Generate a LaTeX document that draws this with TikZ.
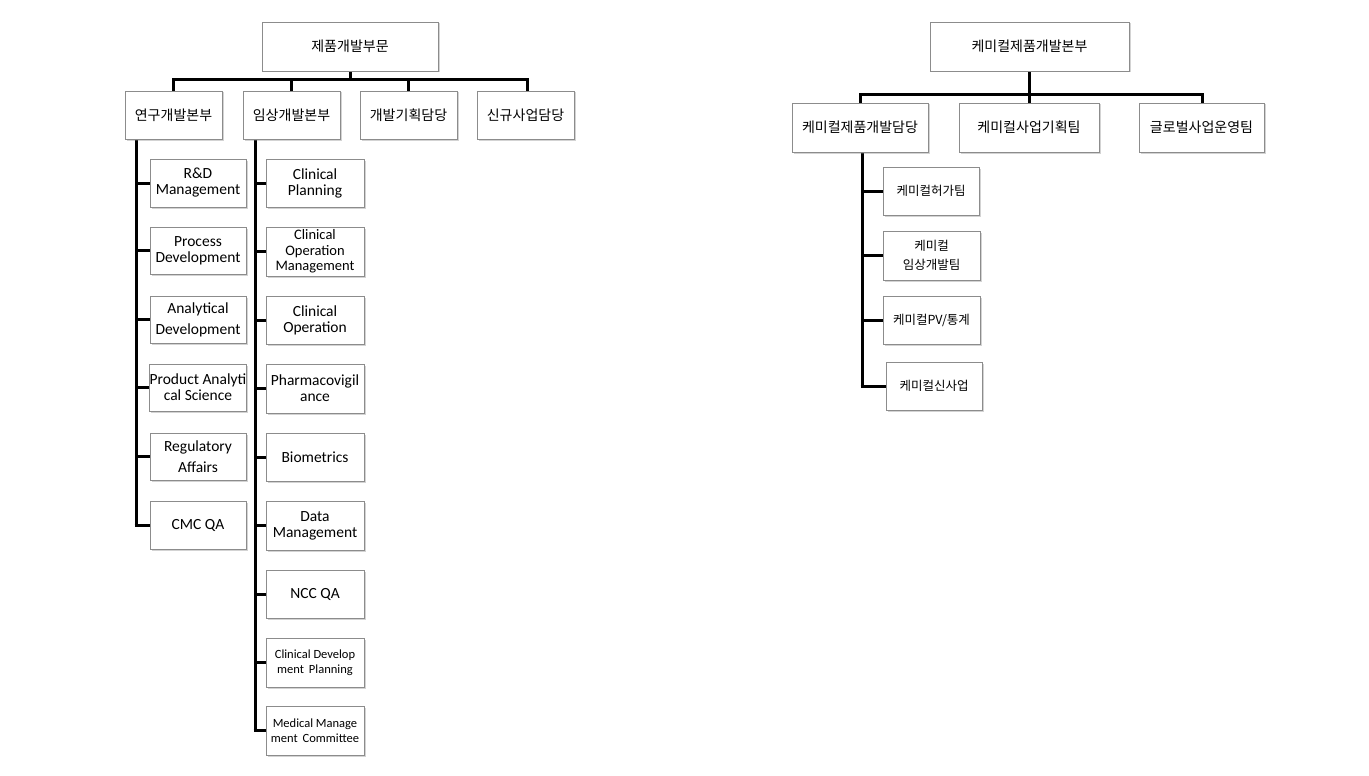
\documentclass[tikz,border=0pt]{standalone}
\usepackage{fontspec}
\setmainfont{Carlito}
\newfontfamily\kr{Noto Sans CJK KR}
\usetikzlibrary{shadows}
\tikzset{
 bx/.style={draw=black!45,fill=white,line width=0.8pt,drop shadow={shadow xshift=1.5pt,shadow yshift=-1.5pt,opacity=0.35},align=center,inner sep=0pt,font=\fontsize{15.5}{16}\selectfont},
 kb/.style={font=\kr\fontsize{14}{16}\selectfont},
 ks/.style={font=\kr\fontsize{12.5}{19}\selectfont},
 sm/.style={font=\fontsize{12.5}{15}\selectfont},
 ln/.style={line width=3pt},
}
\newcommand{\bxat}[7][]{\node[bx,#1,minimum width=#5-#3,minimum height=#6-#4] (#2) at ({(#3+#5)/2},{(#4+#6)/2}) {#7};}
\begin{document}
\begin{tikzpicture}[x=1pt,y=-1pt]
\useasboundingbox (0,0) rectangle (1369,776);
\draw[ln] (350,71) -- (350,80);
\draw[ln] (173.5,92) -- (173.5,80) -- (527,80) -- (527,92);
\draw[ln] (291.5,80)--(291.5,92); \draw[ln] (408.5,80)--(408.5,92);
\draw[ln] (136,139) -- (136,526.5);
\draw[ln] (255,139) -- (255,732);
\foreach \y in {183,250.5,319.5,387.5,456.5} \draw[ln] (136,\y)--(150,\y);
\draw[ln] (134.5,525)--(150,525);
\foreach \y in {183,251.5,320,388.5,457,525.5,594,662.5} \draw[ln] (255,\y)--(266,\y);
\draw[ln] (253.5,730.5)--(266,730.5);
\draw[ln] (1029.5,71) -- (1029.5,95);
\draw[ln] (860,104) -- (860,95) -- (1202,95) -- (1202,104);
\draw[ln] (1029.5,95)--(1029.5,104);
\draw[ln] (862,152) -- (862,387.5);
\foreach \y in {191,255.5,320} \draw[ln] (862,\y)--(883,\y);
\draw[ln] (860.5,386)--(886,386);
\bxat[kb]{top}{262}{22}{438}{71}{제품개발부문}
\bxat[kb]{a}{125}{91}{222}{139}{연구개발본부}
\bxat[kb]{b}{243}{91}{340}{139}{임상개발본부}
\bxat[kb]{c}{360}{91}{457}{139}{개발기획담당}
\bxat[kb]{d}{477}{91}{574}{139}{신규사업담당}
\bxat{a1}{150}{159}{246}{207}{R\&D\\Management}
\bxat{a2}{150}{227}{246}{274}{Process\\Development}
\bxat{a3}{150}{296}{246}{343}{Analytical\\[5pt]Development}
\bxat{a4}{150}{364}{246}{411}{Product Analyti\\cal Science}
\bxat{a5}{150}{433}{246}{480}{Regulatory\\[5pt]Affairs}
\bxat{a6}{150}{501}{246}{549}{CMC QA}
\bxat{b1}{266}{159}{364}{207}{Clinical\\Planning}
\bxat[font=\fontsize{14.5}{15.5}\selectfont]{b2}{266}{227}{364}{276}{Clinical\\Operation\\Management}
\bxat{b3}{266}{296}{364}{344}{Clinical\\Operation}
\bxat{b4}{266}{364}{364}{413}{Pharmacovigil\\ance}
\bxat{b5}{266}{433}{364}{481}{Biometrics}
\bxat{b6}{266}{501}{364}{550}{Data\\Management}
\bxat{b7}{266}{570}{364}{618}{NCC QA}
\bxat[sm]{b8}{266}{638}{364}{687}{Clinical Develop\\ment\, Planning}
\bxat[sm]{b9}{266}{706}{364}{755}{Medical Manage\\ment\, Committee}
\bxat[kb]{rt}{930}{22}{1129}{71}{케미컬제품개발본부}
\bxat[kb]{r1}{792}{103}{928}{152}{케미컬제품개발담당}
\bxat[kb]{r2}{959}{103}{1099}{152}{케미컬사업기획팀}
\bxat[kb]{r3}{1139}{103}{1264}{152}{글로벌사업운영팀}
\bxat[ks]{r11}{883}{167}{979}{215}{케미컬허가팀}
\bxat[ks]{r12}{883}{231}{980}{280}{케미컬\\임상개발팀}
\bxat[ks]{r13}{883}{296}{980}{344}{케미컬PV/통계}
\bxat[ks]{r14}{886}{362}{982}{410}{케미컬신사업}
\end{tikzpicture}
\end{document}
